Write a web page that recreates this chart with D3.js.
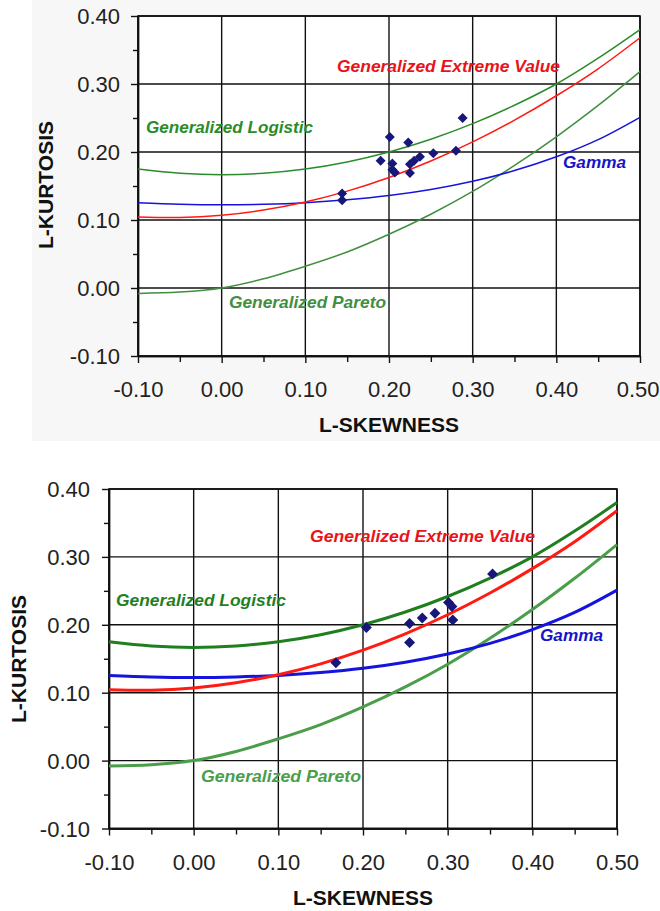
<!DOCTYPE html>
<html><head><meta charset="utf-8">
<script src="https://cdn.jsdelivr.net/npm/d3@7"></script>
<style>body{margin:0;background:#fff}svg{display:block}</style>
</head><body><svg id="c" width="660" height="911"></svg>
<script>
// L-moment ratio diagram: theoretical curves (tau3 -> tau4)
const tau3    = [-0.10,-0.05,0.00,0.05,0.10,0.15,0.20,0.25,0.30,0.35,0.40,0.45,0.50];
const gloKurt = [0.1750,0.1688,0.1667,0.1688,0.1750,0.1854,0.2000,0.2188,0.2417,0.2688,0.3000,0.3380,0.3800];
const gevKurt = [0.1045,0.1036,0.1070,0.1147,0.1265,0.1425,0.1626,0.1867,0.2148,0.2468,0.2827,0.3224,0.3680];
const gpaKurt = [-0.0080,-0.0060,0.0000,0.0135,0.0320,0.0530,0.0790,0.1085,0.1420,0.1802,0.2224,0.2685,0.3182];
const gamKurt = [0.1255,0.1232,0.1224,0.1232,0.1255,0.1297,0.1359,0.1448,0.1569,0.1727,0.1929,0.2182,0.2510];

// Site L-moment ratios, upper chart
const skewA = [0.288,0.201,0.223,0.190,0.204,0.204,0.207,0.225,0.225,0.230,0.237,0.253,0.280,0.144,0.144];
const kurtA = [0.250,0.222,0.214,0.187,0.183,0.174,0.170,0.169,0.182,0.187,0.193,0.198,0.202,0.139,0.129];
// Site L-moment ratios, lower chart
const skewB = [0.168,0.204,0.255,0.255,0.270,0.285,0.301,0.305,0.306,0.353];
const kurtB = [0.144,0.196,0.202,0.174,0.210,0.217,0.233,0.227,0.207,0.275];

const xTicks = [-0.10,0.00,0.10,0.20,0.30,0.40,0.50];
const yTicks = [-0.10,0.00,0.10,0.20,0.30,0.40];
const xMinor = [-0.05,0.05,0.15,0.25,0.35,0.45];
const yMinor = [-0.05,0.05,0.15,0.25,0.35];

const curveNames = ["Generalized Extreme Value","Generalized Logistic","Gamma","Generalized Pareto"];
const xTitle = "L-SKEWNESS", yTitle = "L-KURTOSIS";

const svg = d3.select("#c");
// light backdrop of the upper figure
svg.append("rect").attr("x",32).attr("y",0).attr("width",628).attr("height",441).attr("fill","#f7f7f7");

const fmt = d => d.toFixed(2);

function drawPanel(o){
  const x = d3.scaleLinear().domain([-0.10,0.50]).range([o.x0,o.x1]);
  const y = d3.scaleLinear().domain([-0.10,0.40]).range([o.y1,o.y0]);
  const g = svg.append("g");
  g.append("rect").attr("x",o.x0).attr("y",o.y0).attr("width",o.x1-o.x0).attr("height",o.y1-o.y0).attr("fill","#fff");
  // grid
  g.selectAll(".gx").data(xTicks).join("line")
    .attr("x1",d=>x(d)).attr("x2",d=>x(d)).attr("y1",o.y0).attr("y2",o.y1)
    .attr("stroke","#111").attr("stroke-width",1.4);
  g.selectAll(".gy").data(yTicks).join("line")
    .attr("y1",d=>y(d)).attr("y2",d=>y(d)).attr("x1",o.x0).attr("x2",o.x1)
    .attr("stroke","#111").attr("stroke-width",1.4);
  // axes
  const ax = g.append("g").attr("transform",`translate(0,${o.y1})`)
    .call(d3.axisBottom(x).tickValues(xTicks).tickFormat(fmt).tickSize(7).tickSizeOuter(0));
  ax.append("g").call(d3.axisBottom(x).tickValues(xMinor).tickFormat("").tickSize(6).tickSizeOuter(0));
  const ay = g.append("g").attr("transform",`translate(${o.x0},0)`)
    .call(d3.axisLeft(y).tickValues(yTicks).tickFormat(fmt).tickSize(7).tickSizeOuter(0));
  ay.append("g").call(d3.axisLeft(y).tickValues(yMinor).tickFormat("").tickSize(5).tickSizeOuter(0));
  [ax,ay].forEach(a=>{
    a.selectAll("path.domain").attr("stroke","#111").attr("stroke-width",1.4);
    a.selectAll("line").attr("stroke","#111").attr("stroke-width",1.4);
  });
  ax.selectAll("text").attr("dy",null).attr("y",o.xLab)
    .attr("font-family","Liberation Sans, Arial, sans-serif").attr("font-size",22).attr("fill","#222");
  // keep the last label inside the page edge
  ax.selectAll(".tick text").filter(d => d === 0.5 && x(0.5) + 26 > 660)
    .attr("text-anchor","end").attr("x", 659 - x(0.5));
  ay.selectAll("text").attr("dy","0.36em").attr("x",-o.yLab)
    .attr("font-family","Liberation Sans, Arial, sans-serif").attr("font-size",22).attr("fill","#222");
  // border
  g.append("rect").attr("x",o.x0).attr("y",o.y0).attr("width",o.x1-o.x0).attr("height",o.y1-o.y0)
    .attr("fill","none").attr("stroke","#111").attr("stroke-width",1.6);
  // curves
  const line = d3.line().x(d=>x(d[0])).y(d=>y(d[1])).curve(d3.curveCatmullRom);
  const series = [
    {k:gpaKurt, c:o.gpaColor, w:o.lw},
    {k:gamKurt, c:"#1414dc", w:o.lw},
    {k:gevKurt, c:"#ff1a12", w:o.lw},
    {k:gloKurt, c:o.gloColor, w:o.lw}
  ];
  series.forEach(s=>{
    g.append("path").datum(tau3.map((t,i)=>[t,s.k[i]]))
      .attr("d",line).attr("fill","none").attr("stroke",s.c).attr("stroke-width",s.w)
      .attr("stroke-linejoin","round");
  });
  // points
  const sym = d3.symbol().type(d3.symbolSquare).size(o.ps);
  g.selectAll(".pt").data(o.sx.map((s,i)=>[s,o.sy[i]])).join("path")
    .attr("d",sym).attr("transform",d=>`translate(${x(d[0])},${y(d[1])}) rotate(45)`)
    .attr("fill","#17177a");
  // curve labels
  const cols = ["#e8141a",o.gloColor,"#1616c8",o.gpaColor];
  o.labels.forEach((L,i)=>{
    g.append("text").attr("x",L[0]).attr("y",L[1]).text(curveNames[i])
      .attr("textLength",L[2]).attr("lengthAdjust","spacingAndGlyphs")
      .attr("font-family","Liberation Sans, Arial, sans-serif").attr("font-size",17)
      .attr("font-weight","bold").attr("font-style","italic").attr("fill",cols[i]);
  });
  // titles
  svg.append("text").attr("x",o.xt[0]).attr("y",o.xt[1]).attr("text-anchor","middle").text(xTitle)
    .attr("font-family","Liberation Sans, Arial, sans-serif").attr("font-size",21).attr("font-weight","bold").attr("fill","#111");
  svg.append("text").attr("transform",`translate(${o.yt[0]},${o.yt[1]}) rotate(-90)`).attr("text-anchor","middle").text(yTitle)
    .attr("font-family","Liberation Sans, Arial, sans-serif").attr("font-size",21).attr("font-weight","bold").attr("fill","#111");
}

drawPanel({x0:138,x1:640,y0:16,y1:356,xLab:41,yLab:18,lw:1.5,ps:50,
  gloColor:"#2a8c2a",gpaColor:"#3f8f3f",sx:skewA,sy:kurtA,
  labels:[[337,72,223],[146,133,167],[563,168,63],[229,308,157]],
  xt:[389,432],yt:[53,185]});
drawPanel({x0:109,x1:617,y0:489,y1:828.5,xLab:41.5,yLab:19,lw:3,ps:60,
  gloColor:"#1f7f1f",gpaColor:"#4a9e4a",sx:skewB,sy:kurtB,
  labels:[[310,542,225],[116,606,170],[540,641,63],[201,782,160]],
  xt:[363,905],yt:[26,659]});
</script></body></html>
